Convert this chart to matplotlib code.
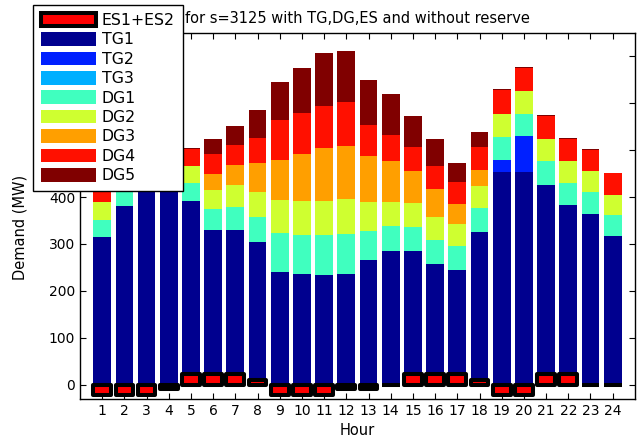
import matplotlib
matplotlib.use('Agg')
import matplotlib.pyplot as plt
import numpy as np

# hourly dispatch (MW) for each unit
hours = list(range(1, 25))
TG1 = [314, 380, 440, 445, 391, 330, 330, 305, 241, 237, 234, 237,
       265, 285, 285, 258, 245, 326, 453, 453, 426, 383, 364, 317]
TG2 = [0, 0, 0, 0, 0, 0, 0, 0, 0, 0, 0, 0,
       0, 0, 0, 0, 0, 0, 27, 77, 0, 0, 0, 0]
TG3 = [0] * 24
DG1 = [38, 50, 0, 0, 39, 45, 48, 52, 82, 82, 85, 84,
       62, 53, 51, 51, 50, 50, 48, 48, 50, 48, 46, 45]
DG2 = [38, 0, 0, 0, 36, 41, 47, 53, 71, 72, 73, 75,
       63, 52, 51, 48, 47, 47, 50, 48, 48, 45, 45, 43]
DG3 = [0, 0, 0, 0, 0, 34, 44, 63, 86, 101, 113, 114,
       98, 88, 69, 60, 43, 35, 0, 0, 0, 0, 0, 0]
DG4 = [40, 0, 0, 0, 36, 42, 43, 54, 85, 88, 89, 92,
       65, 55, 50, 49, 48, 48, 50, 49, 49, 47, 45, 46]
DG5 = [2, 0, 0, 0, 2, 31, 40, 59, 81, 95, 113, 110,
       97, 86, 67, 58, 40, 33, 2, 2, 2, 2, 2, 1]
# storage: + discharge, - charge
ES = [-22, -22, -22, -10, 22, 22, 22, 9, -22, -22, -22, -10,
      -10, 0, 22, 22, 22, 9, -22, -22, 22, 22, 0, 0]

names = ['TG1', 'TG2', 'TG3', 'DG1', 'DG2', 'DG3', 'DG4', 'DG5']
colors = ['#00008f', '#0020ff', '#00afff', '#40ffbf',
          '#cfff30', '#ff9f00', '#ff1000', '#800000']
units = [TG1, TG2, TG3, DG1, DG2, DG3, DG4, DG5]

fig = plt.figure(figsize=(6.4, 4.38), dpi=100)
ax = fig.add_axes([0.125, 0.0897, 0.867, 0.835])

x = np.array(hours)
bottom = np.zeros(24)
handles = []
for name, col, vals in zip(names, colors, units):
    b = ax.bar(x, vals, 0.8, bottom=bottom, color=col, linewidth=0, label=name, zorder=2)
    handles.append(b)
    bottom = bottom + np.array(vals)

es = ax.bar(x, ES, 0.8, color='#ff0000', edgecolor='black', linewidth=2.9,
            joinstyle='round', label='ES1+ES2', zorder=3)

ax.set_xlim(0, 25)
ax.set_ylim(-30, 750)
ax.set_xticks(hours)
ax.set_yticks(range(0, 800, 100))
ax.tick_params(direction='in', top=True, right=True, length=4, labelsize=10)
for s in ax.spines.values():
    s.set_linewidth(1)

ax.set_title('for s=3125 with TG,DG,ES and without reserve', fontsize=10.5, pad=7)
ax.set_xlabel('Hour', fontsize=10.5)
ax.set_ylabel('Demand (MW)', fontsize=10.5)
ax.yaxis.set_label_coords(-0.094, 0.468)

leg = fig.legend([es] + handles, ['ES1+ES2'] + names, loc='upper left',
                 bbox_to_anchor=(33 / 640, 1 - 5 / 438), fontsize=11.3,
                 handlelength=3.5, handleheight=0.95, handletextpad=0.38,
                 labelspacing=0.27, borderpad=0.5, borderaxespad=0,
                 fancybox=False, framealpha=1, edgecolor='black')
leg.get_frame().set_linewidth(1)

fig.savefig('out.png', dpi=100)
